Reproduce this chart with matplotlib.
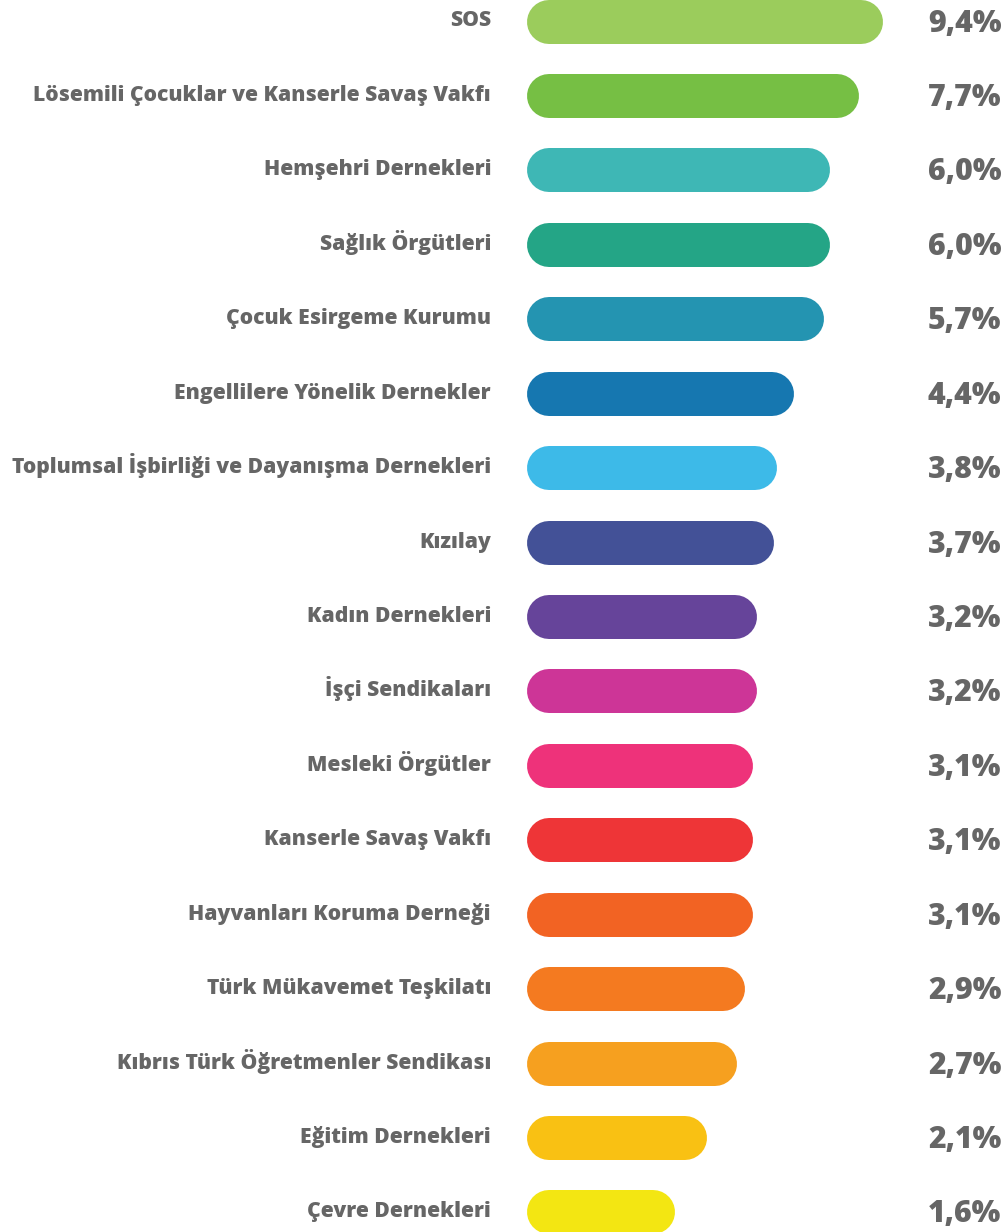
import matplotlib
matplotlib.use("Agg")
import matplotlib.pyplot as plt
import matplotlib.transforms as mtransforms
import numpy as np

categories = [
    "SOS",
    "Lösemili Çocuklar ve Kanserle Savaş Vakfı",
    "Hemşehri Dernekleri",
    "Sağlık Örgütleri",
    "Çocuk Esirgeme Kurumu",
    "Engellilere Yönelik Dernekler",
    "Toplumsal İşbirliği ve Dayanışma Dernekleri",
    "Kızılay",
    "Kadın Dernekleri",
    "İşçi Sendikaları",
    "Mesleki Örgütler",
    "Kanserle Savaş Vakfı",
    "Hayvanları Koruma Derneği",
    "Türk Mükavemet Teşkilatı",
    "Kıbrıs Türk Öğretmenler Sendikası",
    "Eğitim Dernekleri",
    "Çevre Dernekleri",
]
values = [9.4, 7.7, 6.0, 6.0, 5.7, 4.4, 3.8, 3.7, 3.2, 3.2, 3.1, 3.1, 3.1, 2.9, 2.7, 2.1, 1.6]
value_labels = ["9,4%", "7,7%", "6,0%", "6,0%", "5,7%", "4,4%", "3,8%", "3,7%", "3,2%",
                "3,2%", "3,1%", "3,1%", "3,1%", "2,9%", "2,7%", "2,1%", "1,6%"]
colors = ["#9BCC5C", "#76BF44", "#3EB7B5", "#24A586", "#2494B1", "#1677B0", "#3DBAE8",
          "#435197", "#66449A", "#CD3597", "#EE327A", "#EE3537", "#F26323", "#F47A20",
          "#F6A01F", "#F9C113", "#F3E612"]

W, H = 1008, 1232
DPI = 100
fig = plt.figure(figsize=(W / DPI, H / DPI), dpi=DPI)
ax = fig.add_axes([0, 0, 1, 1])
ax.set_xscale("log")

# layout (pixels)
px_per_e = 117.0          # pixels per unit of natural log
bar_origin = 0.45         # log-axis value where bars visually begin
bar_left_px = 527.0
bar_h_px = 44.0
cap = bar_h_px / 2
row0_px, pitch_px = 21.5, 74.43

span = W / px_per_e
a = bar_origin * np.exp(-(bar_left_px - cap) / px_per_e)
b = a * np.exp(span)
ax.set_xlim(a, b)
start = a * np.exp((bar_left_px + cap) / px_per_e)
ax.set_ylim((H - row0_px) / pitch_px, -row0_px / pitch_px)
ax.axis("off")

lw_pt = bar_h_px * 72 / DPI
grey = "#666666"
trans = mtransforms.blended_transform_factory(ax.transAxes, ax.transData)
font = ["Open Sans", "DejaVu Sans"]

for i, (cat, v, lab, c) in enumerate(zip(categories, values, value_labels, colors)):
    ax.plot([start, v], [i, i], color=c, lw=lw_pt, solid_capstyle="round")
    ax.text(491 / W, i + 5 / pitch_px, cat, transform=trans, ha="right", va="baseline",
            fontsize=15.2, fontweight=800, color=grey, family=font)
    ax.text(928 / W, i + 10 / pitch_px, lab, transform=trans, ha="left", va="baseline",
            fontsize=21.8, fontweight=800, color=grey, family=font)

fig.savefig("out.png", dpi=DPI)
